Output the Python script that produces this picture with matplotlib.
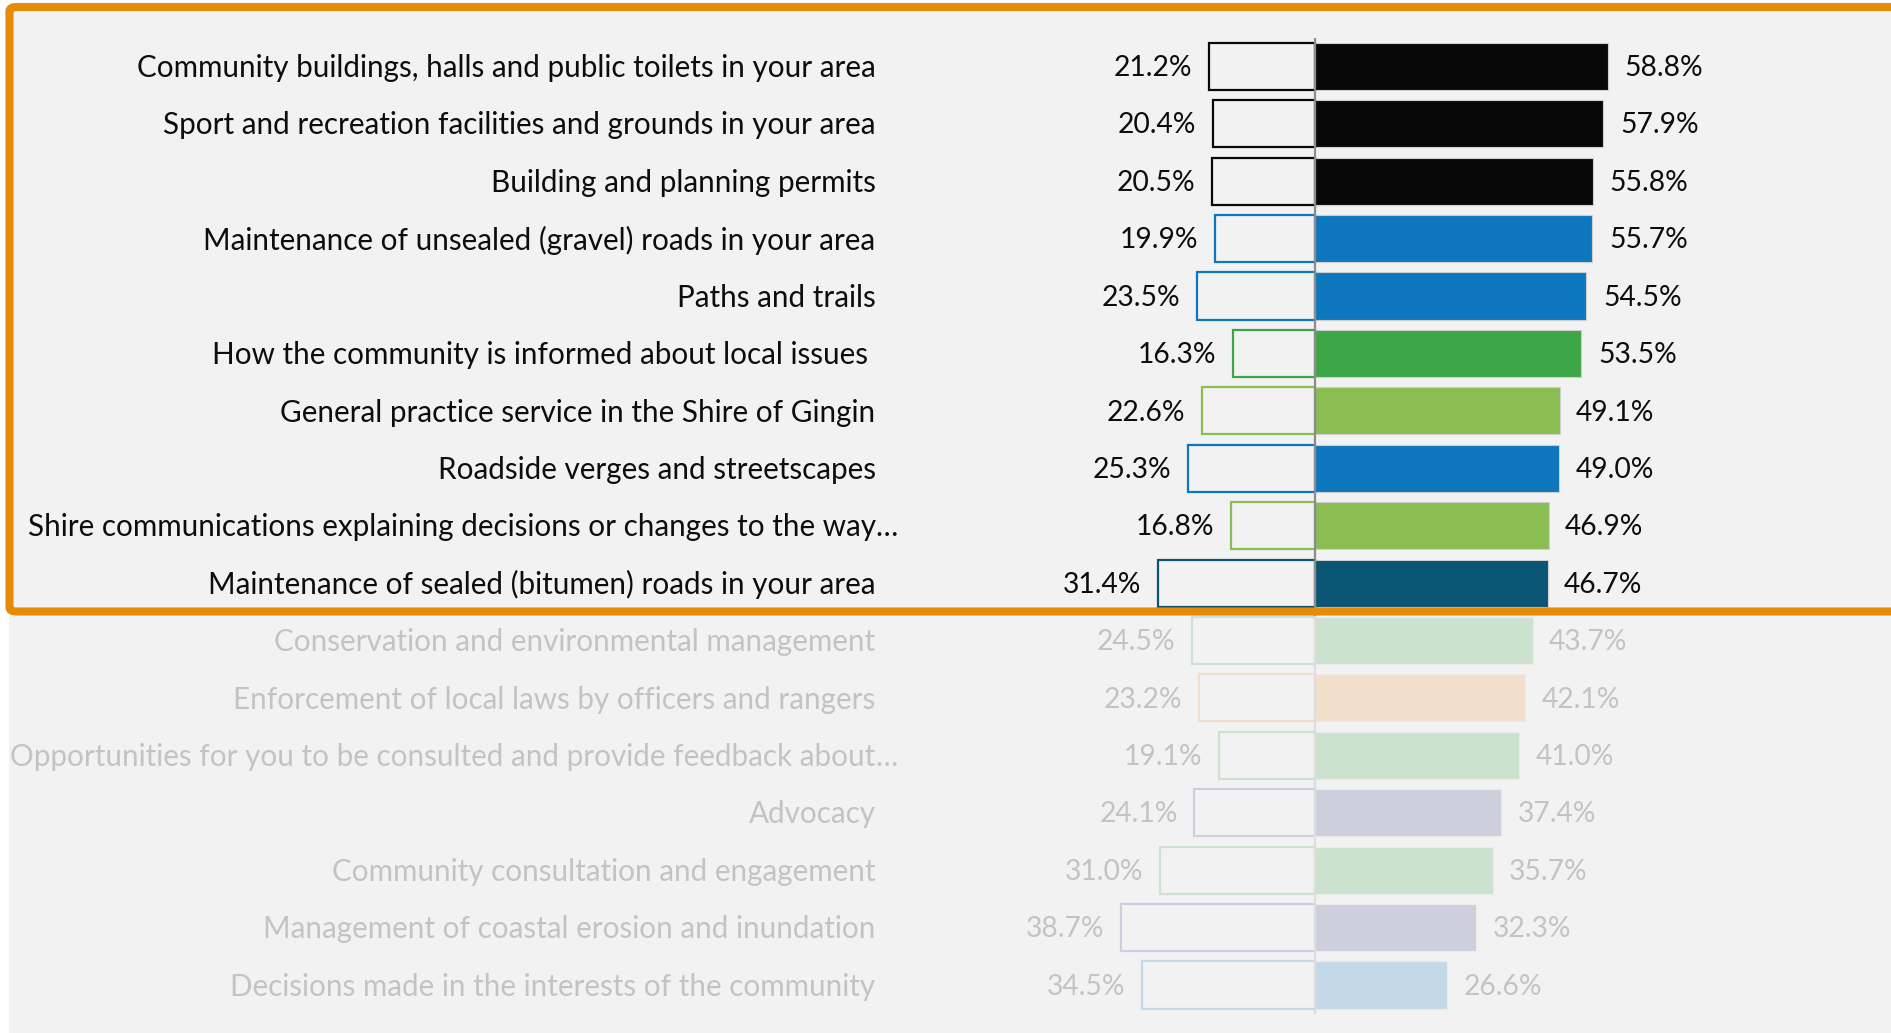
import matplotlib
matplotlib.use("Agg")
import matplotlib.pyplot as plt
from matplotlib.patches import Rectangle, FancyBboxPatch

plt.rcParams['font.family'] = ['Lato', 'DejaVu Sans']

# ---- data -------------------------------------------------------------
categories = [
    "Community buildings, halls and public toilets in your area",
    "Sport and recreation facilities and grounds in your area",
    "Building and planning permits",
    "Maintenance of unsealed (gravel) roads in your area",
    "Paths and trails",
    "How the community is informed about local issues ",
    "General practice service in the Shire of Gingin",
    "Roadside verges and streetscapes",
    "Shire communications explaining decisions or changes to the way…",
    "Maintenance of sealed (bitumen) roads in your area",
    "Conservation and environmental management",
    "Enforcement of local laws by officers and rangers",
    "Opportunities for you to be consulted and provide feedback about…",
    "Advocacy",
    "Community consultation and engagement",
    "Management of coastal erosion and inundation",
    "Decisions made in the interests of the community",
]
left_values = [21.2, 20.4, 20.5, 19.9, 23.5, 16.3, 22.6, 25.3, 16.8, 31.4,
               24.5, 23.2, 19.1, 24.1, 31.0, 38.7, 34.5]
right_values = [58.8, 57.9, 55.8, 55.7, 54.5, 53.5, 49.1, 49.0, 46.9, 46.7,
                43.7, 42.1, 41.0, 37.4, 35.7, 32.3, 26.6]
bar_colors = ["#080808", "#080808", "#080808", "#0d77bd", "#0d77bd",
              "#3ca545", "#8abe53", "#0d77bd", "#8abe53", "#0b5574",
              "#3ca545", "#f29834", "#3ca545", "#3e488e", "#3ca545",
              "#3e488e", "#0d77bd"]
highlighted = 10  # first rows shown at full strength

# ---- layout -----------------------------------------------------------
W, H = 1891, 1033
BG = "#f2f2f2"
ORANGE = "#e58b08"
CENTER_PX = 1314.5      # pixel x of the zero line
PX_PER_PCT = 4.99       # horizontal scale
ROW0_PX = 66.3          # pixel y of first row centre
ROW_PX = 57.42          # row pitch in pixels

fig = plt.figure(figsize=(W / 100, H / 100), dpi=100, facecolor="white")


def fx(px):
    return px / W


def fy(py):
    return 1 - py / H


# grey panel behind the chart
fig.patches.append(Rectangle((fx(9), fy(H)), fx(W - 9), fy(3) - fy(H),
                             transform=fig.transFigure, facecolor=BG,
                             edgecolor="none", zorder=0))

ax = fig.add_axes([0, 0, 1, 1])
ax.set_zorder(1)
ax.patch.set_visible(False)
ax.set_xlim(-CENTER_PX / PX_PER_PCT, (W - CENTER_PX) / PX_PER_PCT)
ax.set_ylim((H - ROW0_PX) / ROW_PX, -ROW0_PX / ROW_PX)
ax.axis("off")

n = len(categories)
rows = list(range(n))
bar_h = 0.82

# positive side: filled bars
ax.barh(rows, right_values, height=bar_h, color=bar_colors,
        edgecolor="#cfcfcf", linewidth=0.8, zorder=2)
# negative side: outlined bars
ax.barh(rows, [-v for v in left_values], height=bar_h, color=BG,
        edgecolor=bar_colors, linewidth=1.6, zorder=2)

# zero line
ax.plot([0, 0], [-0.5, n - 0.5], color="#8c8c8c", lw=1.6, zorder=3,
        solid_capstyle="butt")

label_x = (875.6 - CENTER_PX) / PX_PER_PCT
FS_CAT = 21.3
FS_PCT = 20.3
TXT = "#0d0d0d"
for i, (cat, lv, rv) in enumerate(zip(categories, left_values, right_values)):
    y = i + 0.03
    if cat.endswith("…"):
        ax.text(label_x, y, cat[:-1], ha="right", va="center",
                fontsize=FS_CAT, color=TXT)
        ax.text(label_x, y, "…", ha="left", va="center",
                fontsize=FS_CAT, color=TXT)
    else:
        ax.text(label_x, y, cat, ha="right", va="center",
                fontsize=FS_CAT, color=TXT)
    ax.annotate(f"{lv:.1f}%", xy=(-lv, y), xytext=(-12, 0),
                textcoords="offset points", ha="right", va="center",
                fontsize=FS_PCT, color=TXT)
    ax.annotate(f"{rv:.1f}%", xy=(rv, y), xytext=(12, 0),
                textcoords="offset points", ha="left", va="center",
                fontsize=FS_PCT, color=TXT)

# wash over the rows below the highlighted group
wash_top = 616
fig.patches.append(Rectangle((fx(9), fy(H)), fx(W - 9), fy(wash_top) - fy(H),
                             transform=fig.transFigure, facecolor=BG,
                             alpha=0.8, edgecolor="none", zorder=2))

# orange frame around the highlighted group
fig.patches.append(FancyBboxPatch((fx(9.5), fy(611.5)), fx(W + 20 - 9.5),
                                  fy(7) - fy(611.5),
                                  boxstyle="round,pad=0,rounding_size=0.004",
                                  transform=fig.transFigure, facecolor="none",
                                  edgecolor=ORANGE, linewidth=5.8, zorder=3))

fig.savefig("out.png", dpi=100, facecolor="white")
